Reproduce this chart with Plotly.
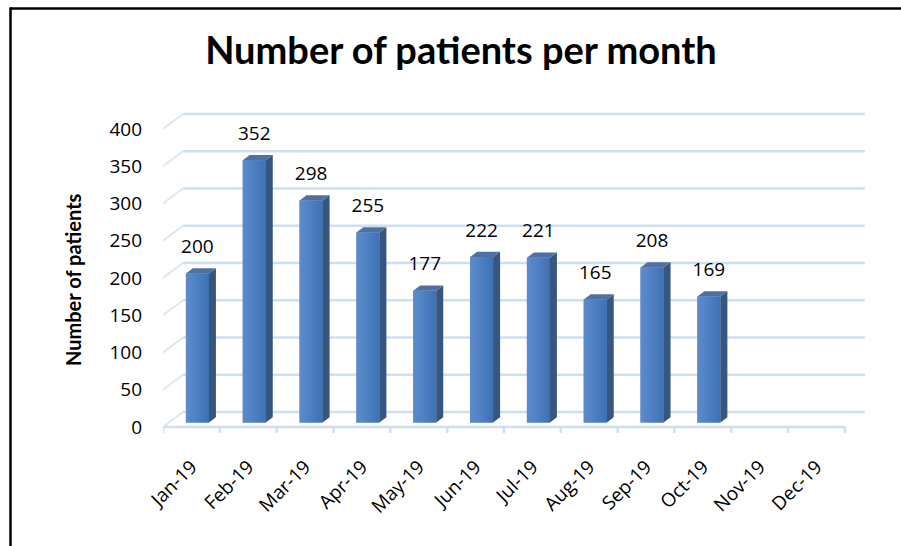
import plotly.graph_objects as go

# ---------------- data ----------------
months = ["Jan-19", "Feb-19", "Mar-19", "Apr-19", "May-19", "Jun-19",
          "Jul-19", "Aug-19", "Sep-19", "Oct-19", "Nov-19", "Dec-19"]
patients = [200, 352, 298, 255, 177, 222, 221, 165, 208, 169, None, None]
y_ticks = [0, 50, 100, 150, 200, 250, 300, 350, 400]

# ---------------- geometry (pixels) ----------------
W, H = 901, 546
M_L, M_R, M_T, M_B = 163, 22, 95, 100
SLOT_PX = 56.83          # px per category
ZERO_PX = 427            # pixel row of value 0 on the front plane
PX_PER_UNIT = 0.745      # px per patient
DEPTH_DX_PX, DEPTH_DY_PX = 20, 15

plot_w = W - M_L - M_R
plot_h = H - M_T - M_B
x_min = -0.5
x_max = x_min + plot_w / SLOT_PX
y_min = -(H - M_B - ZERO_PX) / PX_PER_UNIT
y_max = (ZERO_PX - M_T) / PX_PER_UNIT

dxu = DEPTH_DX_PX / SLOT_PX
dyu = DEPTH_DY_PX / PX_PER_UNIT
n = len(months)
x_end = n - 0.5

D0, D1 = 0.3, 0.65
BAR_W = 0.405

GRID = "#cfdff2"
SIDE = "#36557f"
TOP = "#4f70a0"

TITLE_FONT = "Lato, Liberation Sans Narrow, sans-serif"
BODY = "Open Sans, Noto Sans, sans-serif"

fig = go.Figure()

shapes = []
# back wall gridlines + left wall diagonals
for v in y_ticks:
    shapes.append(dict(type="line", xref="x", yref="y", layer="below",
                       x0=x_min + dxu, x1=x_end + dxu, y0=v + dyu, y1=v + dyu,
                       line=dict(color=GRID, width=2.5)))
    shapes.append(dict(type="line", xref="x", yref="y", layer="below",
                       x0=x_min, x1=x_min + dxu, y0=v, y1=v + dyu,
                       line=dict(color="#dce7f5", width=2)))
# front axis line and tick marks
shapes.append(dict(type="line", xref="x", yref="y", layer="below",
                   x0=x_min, x1=x_end, y0=0, y1=0, line=dict(color=GRID, width=2.5)))
for k in range(n + 1):
    b = x_min + k
    shapes.append(dict(type="line", xref="x", yref="y", layer="below",
                       x0=b, x1=b, y0=0, y1=-8, line=dict(color=GRID, width=2.5)))

# bar front faces (bars through the library's bar trace, gradient via overlay)
bx = [i + dxu * D0 for i in range(n)]
fig.add_trace(go.Bar(x=bx, y=patients, base=dyu * D0, width=BAR_W,
                     marker=dict(color="#4a7cbf", line=dict(width=0)),
                     showlegend=False, hoverinfo="y"))

# front faces with a horizontal gradient (same geometry as the bars)
for i, v in enumerate(patients):
    if v is None:
        continue
    xl = bx[i] - BAR_W / 2
    xr = bx[i] + BAR_W / 2
    yb = dyu * D0
    yt = v + dyu * D0
    fig.add_trace(go.Scatter(
        x=[xl, xr, xr, xl, xl], y=[yb, yb, yt, yt, yb], mode="lines", fill="toself",
        fillgradient=dict(type="horizontal",
                          colorscale=[[0, "#5d8bcb"], [0.5, "#4d80c3"], [1, "#3e70b3"]]),
        line=dict(width=0), hoverinfo="skip", showlegend=False))

# side and top faces
sx, sy, tx, ty = [], [], [], []
ox, oy = dxu * (D1 - D0), dyu * (D1 - D0)
for i, v in enumerate(patients):
    if v is None:
        continue
    xl = bx[i] - BAR_W / 2
    xr = bx[i] + BAR_W / 2
    yb = dyu * D0
    yt = v + dyu * D0
    sx += [xr, xr + ox, xr + ox, xr, xr, None]
    sy += [yb, yb + oy, yt + oy, yt, yb, None]
    tx += [xl, xr, xr + ox, xl + ox, xl, None]
    ty += [yt, yt, yt + oy, yt + oy, yt, None]
fig.add_trace(go.Scatter(x=sx, y=sy, mode="lines", fill="toself", fillcolor=SIDE,
                         line=dict(width=0, color=SIDE), hoverinfo="skip", showlegend=False))
fig.add_trace(go.Scatter(x=tx, y=ty, mode="lines", fill="toself", fillcolor=TOP,
                         line=dict(width=0, color=TOP), hoverinfo="skip", showlegend=False))

# data labels
lx = [bx[i] for i, v in enumerate(patients) if v is not None]
ly = [v + 40 for v in patients if v is not None]
lt = [str(v) for v in patients if v is not None]
fig.add_trace(go.Scatter(x=lx, y=ly, text=lt, mode="text", textposition="middle center",
                         textfont=dict(family=BODY, size=19, color="#000000"),
                         hoverinfo="skip", showlegend=False, cliponaxis=False))


def px_to_paper_x(px):
    return (px - M_L) / plot_w


def px_to_paper_y(py):
    return (H - M_B - py) / plot_h


shapes += [
    dict(type="line", xref="paper", yref="paper",
         x0=px_to_paper_x(10), x1=px_to_paper_x(W + 5),
         y0=px_to_paper_y(8.5), y1=px_to_paper_y(8.5),
         line=dict(color="black", width=2.5)),
    dict(type="line", xref="paper", yref="paper",
         x0=px_to_paper_x(10.5), x1=px_to_paper_x(10.5),
         y0=px_to_paper_y(7.5), y1=px_to_paper_y(H + 5),
         line=dict(color="black", width=2.5)),
]

fig.update_layout(
    width=W, height=H,
    margin=dict(l=M_L, r=M_R, t=M_T, b=M_B, autoexpand=False),
    paper_bgcolor="white", plot_bgcolor="white",
    title=dict(text="Number of patients per month", xref="container", yref="container",
               x=461 / W, y=1 - 51 / H, xanchor="center", yanchor="middle",
               font=dict(family=TITLE_FONT, size=38, color="black", weight="bold")),
    xaxis=dict(range=[x_min, x_max], tickvals=list(range(n)), ticktext=months,
               tickangle=-45, showgrid=False, zeroline=False, showline=False, ticks="",
               ticklabelstandoff=5,
               tickfont=dict(family=BODY, size=19, color="black")),
    yaxis=dict(range=[y_min, y_max], tickvals=y_ticks, showgrid=False, zeroline=False,
               showline=False, ticks="", ticklabelstandoff=20,
               tickfont=dict(family=BODY, size=19, color="black")),
    annotations=[dict(text="Number of patients", textangle=-90, showarrow=False,
                      xref="paper", yref="paper", x=px_to_paper_x(73), y=px_to_paper_y(280),
                      xanchor="center", yanchor="middle",
                      font=dict(family=TITLE_FONT, size=20, color="black", weight="bold"))],
    shapes=shapes,
)

fig.write_html("out.html", config={"displayModeBar": False},
               post_script="document.body.style.margin='0';document.body.style.overflow='hidden';")
